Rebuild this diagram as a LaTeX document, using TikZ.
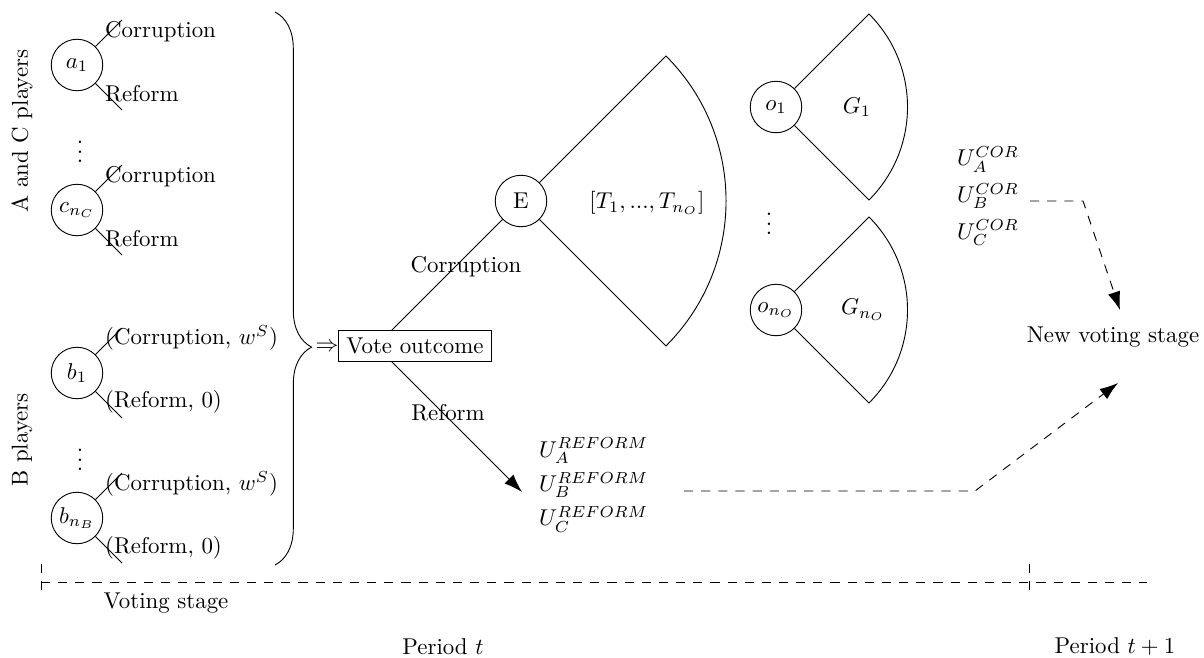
\documentclass[tikz,border=0pt]{standalone}
\usetikzlibrary{arrows.meta,decorations.pathreplacing}
\begin{document}
\begin{tikzpicture}[x=0.437pt,y=0.437pt,yscale=-1,xscale=1,
  player/.style={circle,draw,minimum size=22.5pt,inner sep=1pt},
  lbl/.style={anchor=west,inner sep=0.75pt},
  headtip/.style={-{Latex[length=8pt,width=5.5pt]}},
  longdash/.style={dash pattern=on 4pt off 3.5pt}]
\useasboundingbox (0,0) rectangle (1204,658);

% Text Node
\node [rotate=90,inner sep=0.75pt] (acgroup) at (22,131) {A and C players};
% Text Node
\node [rotate=90,inner sep=0.75pt] (bgroup) at (22,440) {B players};

%Shape: Circle
\node [player] (a1) at (77,65) {$a_1$};
\node [player] (cnc) at (77,210) {$c_{n_C}$};
\node [player] (b1) at (77,373) {$b_1$};
\node [player] (bnb) at (77,518) {$b_{n_B}$};

%Straight Lines
\coordinate (a1cor) at (122,20);
\coordinate (a1ref) at (122,110);
\coordinate (cnccor) at (122,165);
\coordinate (cncref) at (122,255);
\coordinate (b1cor) at (122,328);
\coordinate (b1ref) at (122,418);
\coordinate (bnbcor) at (122,473);
\coordinate (bnbref) at (122,563);
\draw (a1) -- (a1cor) ;
\draw (a1) -- (a1ref) ;
\draw (cnc) -- (cnccor) ;
\draw (cnc) -- (cncref) ;
\draw (b1) -- (b1cor) ;
\draw (b1) -- (b1ref) ;
\draw (bnb) -- (bnbcor) ;
\draw (bnb) -- (bnbref) ;

% Text Node
\node [lbl] (a1corl) at (103,32) {Corruption};
\node [lbl] (a1refl) at (103,94) {Reform};
\node [lbl] (cnccorl) at (103,177) {Corruption};
\node [lbl] (cncrefl) at (103,239) {Reform};
\node [lbl] (b1corl) at (103,338) {(Corruption, $w^S$)};
\node [lbl] (b1refl) at (103,402) {(Reform, 0)};
\node [lbl] (bnbcorl) at (103,484) {(Corruption, $w^S$)};
\node [lbl] (bnbrefl) at (103,548) {(Reform, 0)};
% Text Node
\node [inner sep=0.75pt] (acdots) at (80,145) {$\vdots$};
\node [inner sep=0.75pt] (bdots) at (80,453) {$\vdots$};

%Brace
\coordinate (bracetop) at (275,12);
\coordinate (bracebot) at (275,565);
\draw [decorate,decoration={brace,amplitude=16pt,aspect=0.606}] (bracetop) -- (bracebot) ;
% Text Node
\node [inner sep=0.75pt] (implies) at (327,347) {$\Rightarrow$};

%Shape: Circle
\node [player] (E) at (521,201) {E};
%Straight Lines
\coordinate (vroot) at (376,346);
\coordinate (reftip) at (522,492);
\draw (vroot) -- (E) ;
\draw [headtip] (vroot) -- (reftip) ;
% Text Node
\node [draw,fill=white] (vote) at (415,346) {Vote outcome};
\node [inner sep=0.75pt] (corlbl) at (466,267) {Corruption};
\node [inner sep=0.75pt] (reflbl) at (448,413) {Reform};

%Shape: Sector
\coordinate (Etop) at (666,56);
\draw (E) -- (Etop) arc [start angle=-45,end angle=45,radius=205] -- (E) ;
\node [inner sep=0.75pt] (tlist) at (647,203) {$[T_1,...,T_{n_O}]$};

%Shape: Circle
\node [player] (o1) at (776,107) {$o_1$};
\node [player] (ono) at (776,310) {$o_{n_O}$};
%Shape: Sector
\coordinate (o1top) at (869,14);
\coordinate (onotop) at (869,217);
\draw (o1) -- (o1top) arc [start angle=-45,end angle=45,radius=131.5] -- (o1) ;
\draw (ono) -- (onotop) arc [start angle=-45,end angle=45,radius=131.5] -- (ono) ;
% Text Node
\node [inner sep=0.75pt] (g1) at (857,107) {$G_1$};
\node [inner sep=0.75pt] (gno) at (863,310) {$G_{n_O}$};
\node [inner sep=0.75pt] (odots) at (769,217) {$\vdots$};

% Text Node
\node [lbl,align=left] (uref) at (537,485) {$U_A^{REFORM}$\\[3pt]$U_B^{REFORM}$\\[3pt]$U_C^{REFORM}$};
\node [lbl,align=left] (ucor) at (955,196) {$U_A^{COR}$\\[4pt]$U_B^{COR}$\\[4pt]$U_C^{COR}$};
\node [inner sep=0.75pt] (newvote) at (1113,337) {New voting stage};

%Straight Lines
\coordinate (corstart) at (1030,201);
\coordinate (corbend) at (1083,201);
\coordinate (cortip) at (1120,310);
\coordinate (refstart) at (684,491);
\coordinate (refbend) at (975,491);
\coordinate (reftwotip) at (1118,383);
\draw [longdash,headtip] (corstart) -- (corbend) -- (cortip) ;
\draw [longdash,headtip] (refstart) -- (refbend) -- (reftwotip) ;

%Time line
\coordinate (tstart) at (41,582);
\coordinate (tend) at (1147,582);
\draw [longdash] (tstart) -- (tend) ;
\draw [longdash] (41,564) -- (41,590) ;
\draw [longdash] (1029,564) -- (1029,590) ;
% Text Node
\node [inner sep=0.75pt] (votestage) at (166,603) {Voting stage};
\node [inner sep=0.75pt] (pert) at (443,647) {Period $t$};
\node [inner sep=0.75pt] (pertone) at (1115,647) {Period $t+1$};

\end{tikzpicture}
\end{document}
